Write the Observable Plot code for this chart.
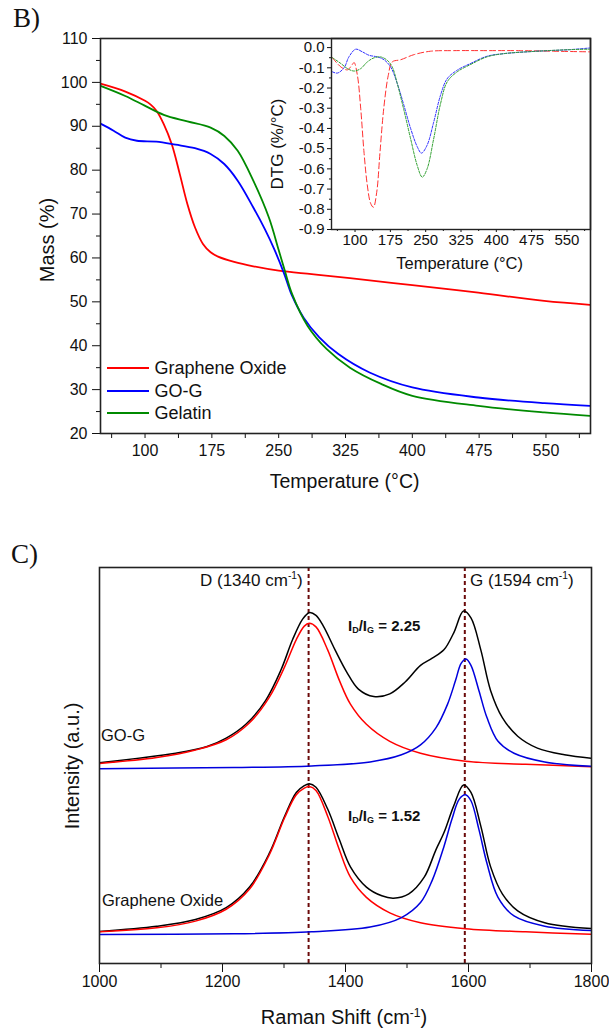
<!DOCTYPE html>
<html><head><meta charset="utf-8">
<script src="https://cdn.jsdelivr.net/npm/d3@7"></script>
<script src="https://cdn.jsdelivr.net/npm/@observablehq/plot@0.6"></script>
<style>
body{margin:0;background:#fff}
#root{position:relative;width:609px;height:1032px;overflow:hidden;font-family:"Liberation Sans",Arial,sans-serif;color:#111;background:#fff}
.t{position:absolute;white-space:nowrap;line-height:1}
.t sup{font-size:0.6em;vertical-align:0.6em;line-height:0}
.t sub{font-size:0.6em;vertical-align:-0.25em;line-height:0}
.holder{position:absolute}
</style></head><body><div id="root"></div>
<script>
// ---------- Panel B: TGA (Mass %) ----------
const tgaGO = [[50,99.7],[78,97.9],[100,95.8],[106,95.0],[113,93.5],[121,90.5],[130,85.9],[139,79.1],[147.5,72.3],[156,67],[165,63.2],[173.6,61.3],[182,60.3],[200,59.1],[221.5,58.1],[250,57.1],[287,56.3],[330,55.4],[400,53.8],[474,52.1],[548,50.2],[600,49.3]];
const tgaGOG = [[50,90.6],[64.7,89],[77.8,87.4],[90.9,86.7],[112.6,86.5],[134.4,85.8],[156,85],[173.6,83.7],[188.9,81.4],[204,77.6],[221.5,71.5],[234.6,66.5],[245,62],[256,56.5],[265,51.4],[278,46.4],[295.6,41.9],[317,38.1],[352,33.9],[400,30.5],[474,28.2],[548,26.9],[600,26.3]];
const tgaGel = [[50,99.2],[77.8,96.9],[99.6,94.7],[121,92.6],[147.5,91.1],[173.6,89.7],[189,87.8],[204,84.4],[221.5,77.6],[239,69.2],[250,61.8],[257,57],[265,51.8],[282.5,44.5],[304,39.2],[330,35],[365,31.3],[400,28.6],[474,26.3],[548,24.8],[600,24.0]];
const seriesNames = ["Graphene Oxide","GO-G","Gelatin"];
const seriesColors = ["#ff0000","#0000ff","#008a00"];
const tgaXTicks = [100,175,250,325,400,475,550];
const tgaXMinor = [62.5,137.5,212.5,287.5,362.5,437.5,512.5,587.5];
const tgaYTicks = [20,30,40,50,60,70,80,90,100,110];
const tgaYMinor = [25,35,45,55,65,75,85,95,105];

// ---------- Inset: DTG ----------
const dtgGO = [[52,-0.05],[70,-0.096],[84,-0.11],[94,-0.084],[98,-0.074],[105,-0.137],[112,-0.30],[119,-0.517],[126,-0.68],[133,-0.77],[139,-0.79],[146,-0.716],[153,-0.517],[161,-0.30],[170.6,-0.137],[179,-0.071],[197,-0.06],[225,-0.035],[260,-0.018],[310,-0.015],[380,-0.015],[451,-0.015],[522,-0.018],[598,-0.021]];
const dtgGOG = [[52,-0.12],[62.6,-0.126],[76.7,-0.10],[87,-0.046],[101.4,-0.008],[115.5,-0.021],[129.7,-0.038],[147.3,-0.046],[161.4,-0.06],[175.6,-0.096],[189.7,-0.178],[203.8,-0.286],[218,-0.40],[232,-0.49],[241,-0.522],[253,-0.483],[267,-0.369],[281.5,-0.236],[295.6,-0.154],[316.8,-0.112],[345,-0.079],[380,-0.043],[415.7,-0.03],[486,-0.018],[557,-0.01],[598,-0.002]];
const dtgGel = [[52,-0.05],[70,-0.079],[84,-0.104],[98,-0.116],[112,-0.104],[126,-0.071],[140,-0.051],[154,-0.046],[168.5,-0.063],[179,-0.096],[189.7,-0.178],[203.8,-0.31],[218,-0.451],[232,-0.583],[242.7,-0.641],[253,-0.60],[267,-0.451],[281.5,-0.278],[295.6,-0.17],[316.8,-0.12],[345,-0.084],[380,-0.046],[415.7,-0.03],[486,-0.018],[557,-0.01],[598,-0.008]];
const dtgYTicks = [0,-0.1,-0.2,-0.3,-0.4,-0.5,-0.6,-0.7,-0.8,-0.9];
const dtgYMinor = [-0.05,-0.15,-0.25,-0.35,-0.45,-0.55,-0.65,-0.75,-0.85];

// ---------- Panel C: Raman ----------
const ramGOGsum = [[1000,50.7],[1061,51.8],[1124,53.1],[1175,54.8],[1206,56.9],[1238,60.4],[1270,66.4],[1295,74.1],[1314,81.8],[1330,86.9],[1341,88.6],[1352,87.9],[1364,85.2],[1383,79.2],[1402,73.6],[1421,69.3],[1446,67.4],[1472,68.1],[1497,71.1],[1522,75.3],[1541,77.1],[1560,79.2],[1576,83.5],[1592,89.0],[1604,87.3],[1620,79.2],[1636,68.9],[1655,62.1],[1680,57.4],[1712,54.4],[1756,52.7],[1800,51.8]];
const ramGOGd = [[1000,50.5],[1093,52],[1156,53.9],[1206,56.5],[1244,60.8],[1276,67.2],[1301,74.9],[1320,81.8],[1333,85.2],[1341,85.9],[1352,85],[1371,79.2],[1390,71.5],[1408,65.5],[1434,60.4],[1472,56.1],[1522,53.1],[1595,51.1],[1693,50.3],[1800,49.7]];
const ramGOGg = [[1000,49.2],[1219,49.5],[1345,49.9],[1440,50.9],[1491,52.7],[1522,55.2],[1547,59.5],[1566,65.5],[1579,71.5],[1588,75.8],[1596,76.9],[1604,75.3],[1617,68.9],[1630,62.1],[1648,56.1],[1674,53.1],[1724,50.9],[1800,49.8]];
const ramGOsum = [[1000,8.1],[1093,9.4],[1156,11.1],[1206,14.1],[1244,19.3],[1276,27.8],[1301,37.2],[1320,43.2],[1333,44.9],[1341,45.4],[1352,44.5],[1371,39],[1390,31.3],[1408,24.4],[1434,19.3],[1459,17.1],[1478,16.5],[1503,17.6],[1528,21.8],[1547,28.7],[1560,33],[1576,39.8],[1592,45.1],[1604,43.2],[1620,34.7],[1636,24.4],[1655,17.6],[1680,13.3],[1724,10.3],[1800,8.8]];
const ramGOd = [[1000,8],[1093,9],[1156,10.7],[1206,13.7],[1244,18.8],[1276,27.4],[1301,36.8],[1320,42.6],[1333,44.3],[1341,44.7],[1352,43.7],[1371,37.2],[1390,28.7],[1408,21.8],[1434,16.7],[1472,12.8],[1522,10.3],[1595,8.8],[1693,8],[1800,7.4]];
const ramGOg = [[1000,7.3],[1219,7.5],[1345,8],[1440,9.2],[1491,11.6],[1522,15.4],[1541,21],[1560,29.5],[1573,36.4],[1585,41.5],[1595,42.6],[1604,41.1],[1617,33.8],[1630,25.3],[1648,16.7],[1674,12],[1724,9.4],[1800,8.3]];
const peakPositions = [1340, 1594];
const ramXTicks = [1000,1200,1400,1600,1800];
const ramXMinor = [1100,1300,1500,1700];

// ---------- helpers ----------
const root = document.getElementById("root");
const FONT = '"Liberation Sans", Arial, sans-serif';
function holder(node, left, top) {
  const d = document.createElement("div");
  d.className = "holder"; d.style.left = left + "px"; d.style.top = top + "px";
  d.appendChild(node); root.appendChild(d);
}
function txt(html, x, y, size, o = {}) {
  const d = document.createElement("div");
  d.className = "t";
  d.innerHTML = html;
  d.style.left = x + "px"; d.style.top = y + "px";
  d.style.fontSize = size + "px";
  if (o.weight) d.style.fontWeight = o.weight;
  if (o.family) d.style.fontFamily = o.family;
  const tx = o.anchor === "middle" ? "-50%" : "0";
  d.style.transform = o.rotate ? "translate(-50%,-50%) rotate(-90deg)" : `translate(${tx},-50%)`;
  root.appendChild(d);
}
const baseStyle = {fontFamily: FONT, fontSize: "16px", color: "#111", background: "transparent", overflow: "visible"};

// ---------- Panel B main ----------
const tgaSeries = [tgaGO, tgaGOG, tgaGel];
const mainB = Plot.plot({
  width: 609, height: 500,
  marginLeft: 100, marginRight: 19, marginTop: 38, marginBottom: 67,
  style: baseStyle,
  x: {domain: [50, 600]},
  y: {domain: [20, 110]},
  marks: [
    ...tgaSeries.map((s, i) => Plot.line(s, {stroke: seriesColors[i], strokeWidth: 1.8, curve: "catmull-rom", clip: true})),
    Plot.axisY(tgaYTicks, {tickSize: 8, tickPadding: 5, fontSize: 16, label: null, tickFormat: d => String(d)}),
    Plot.axisY(tgaYMinor, {tickSize: 4, label: null, tickFormat: () => ""}),
    Plot.axisX(tgaXTicks, {tickSize: 5, tickPadding: 6, fontSize: 16, label: null, tickFormat: d => String(d)}),
    Plot.axisX(tgaXMinor, {tickSize: 5, label: null, tickFormat: () => ""}),
    Plot.frame({stroke: "#222", strokeWidth: 1.6})
  ]
});
holder(mainB, 0, 0);

// ---------- Inset ----------
const dtgSeries = [dtgGO, dtgGOG, dtgGel];
const dtgColors = ["#ff3030", "#3030ff", "#30a030"];
const dtgDash = ["6,3", "2.5,1.5", "2.5,1.5"];
const inset = Plot.plot({
  width: 350, height: 290,
  marginLeft: 81, marginRight: 10, marginTop: 38, marginBottom: 61,
  style: {...baseStyle, fontSize: "15px"},
  x: {domain: [50, 600]},
  y: {domain: [-0.9, 0.045]},
  marks: [
    ...dtgSeries.map((s, i) => Plot.line(s, {stroke: dtgColors[i], strokeWidth: 1, strokeDasharray: dtgDash[i], curve: "catmull-rom", clip: true})),
    Plot.axisY(dtgYTicks, {tickSize: 4, tickPadding: 3, fontSize: 15, label: null, tickFormat: d => d.toFixed(1)}),
    Plot.axisY(dtgYMinor, {tickSize: 2, label: null, tickFormat: () => ""}),
    Plot.axisX(tgaXTicks, {tickSize: 3, tickPadding: 2, fontSize: 15, label: null, tickFormat: d => String(d)}),
    Plot.axisX(tgaXMinor, {tickSize: 2, label: null, tickFormat: () => ""}),
    Plot.frame({stroke: "#222", strokeWidth: 1.4})
  ]
});
holder(inset, 250, 0);

// ---------- Panel C ----------
const ramLines = [
  [ramGOGsum, "#000000"], [ramGOGd, "#ff0000"], [ramGOGg, "#0000dd"],
  [ramGOsum, "#000000"], [ramGOd, "#ff0000"], [ramGOg, "#0000dd"]
];
const panelC = Plot.plot({
  width: 609, height: 532,
  marginLeft: 99, marginRight: 18, marginTop: 67, marginBottom: 69,
  style: baseStyle,
  x: {domain: [1000, 1800]},
  y: {domain: [0, 100], axis: null},
  marks: [
    Plot.ruleX(peakPositions, {stroke: "#6b0a0a", strokeWidth: 2, strokeDasharray: "4,3"}),
    ...ramLines.map(([s, c]) => Plot.line(s, {stroke: c, strokeWidth: 1.5, curve: "catmull-rom", clip: true})),
    Plot.axisX(ramXTicks, {tickSize: 9, tickPadding: 3, fontSize: 16, label: null, tickFormat: d => String(d)}),
    Plot.axisX(ramXMinor, {tickSize: 5, label: null, tickFormat: () => ""}),
    Plot.frame({stroke: "#222", strokeWidth: 1.6})
  ]
});
holder(panelC, 0, 500);

// ---------- Texts ----------
const SERIF = '"Liberation Serif", "Times New Roman", serif';
txt("B)", 13, 18, 27, {family: SERIF});
txt("Mass (%)", 46.5, 240, 20, {rotate: true});
txt("Temperature (°C)", 344.6, 482, 19.5, {anchor: "middle"});
txt("DTG (%/°C)", 277, 144, 17, {rotate: true});
txt("Temperature (°C)", 459.6, 263, 16.5, {anchor: "middle"});

const legendY = [367.7, 390.7, 413.3];
seriesNames.forEach((n, i) => {
  const l = document.createElement("div");
  l.style.cssText = `position:absolute;left:107px;top:${legendY[i] - 1}px;width:42px;height:2px;background:${seriesColors[i]}`;
  root.appendChild(l);
  txt(n, 154.4, legendY[i], 18);
});

txt("C)", 11, 554, 27, {family: SERIF});
txt("Intensity (a.u.)", 72, 766, 20, {rotate: true});
txt("Raman Shift (cm<sup>-1</sup>)", 344, 1017, 20, {anchor: "middle"});
txt("D (1340 cm<sup>-1</sup>)", 200, 580, 17);
txt("G (1594 cm<sup>-1</sup>)", 470, 580, 17);
txt("I<sub>D</sub>/I<sub>G</sub> = 2.25", 348, 625, 15, {weight: "bold"});
txt("I<sub>D</sub>/I<sub>G</sub> = 1.52", 348, 815, 15, {weight: "bold"});
txt("GO-G", 101, 735, 16.5);
txt("Graphene Oxide", 102, 900, 16.5);
</script></body></html>
